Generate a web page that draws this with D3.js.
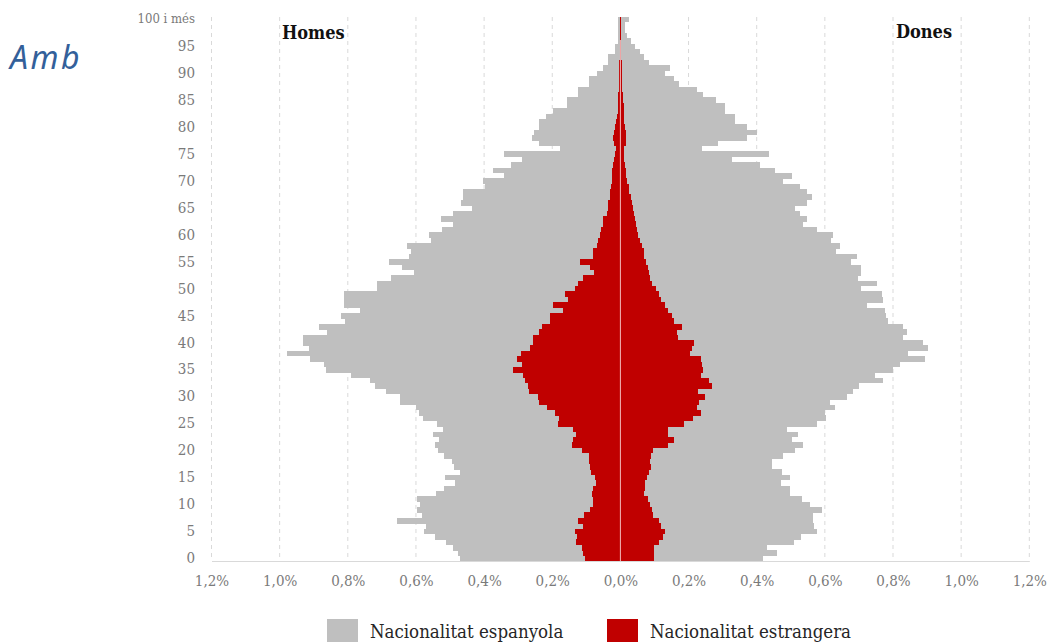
<!DOCTYPE html>
<html>
<head>
<meta charset="utf-8">
<script src="https://cdn.jsdelivr.net/npm/d3@7"></script>
<style>
  body { margin: 0; background: #fff; }
  svg { display: block; }
</style>
</head>
<body>
<div id="pyramid"></div>
<script>
// edats 0..100 (100 = "100 i més")
const ages = d3.range(0, 101);

// % sobre el total de població, per edat (0..100)
const homesEspanyola = [
  0.472, 0.478, 0.49, 0.512, 0.544, 0.576, 0.57, 0.656, 0.583, 0.596,
  0.588, 0.596, 0.541, 0.519, 0.484, 0.514, 0.472, 0.488, 0.495, 0.519,
  0.534, 0.543, 0.532, 0.549, 0.522, 0.539, 0.578, 0.59, 0.6, 0.648,
  0.648, 0.687, 0.72, 0.734, 0.79, 0.864, 0.871, 0.91, 0.979, 0.915,
  0.932, 0.932, 0.86, 0.885, 0.808, 0.82, 0.764, 0.81, 0.81, 0.81,
  0.715, 0.715, 0.673, 0.607, 0.641, 0.679, 0.619, 0.614, 0.627, 0.556,
  0.563, 0.524, 0.49, 0.527, 0.492, 0.435, 0.467, 0.462, 0.461, 0.396,
  0.404, 0.341, 0.374, 0.322, 0.288, 0.342, 0.177, 0.24, 0.26, 0.253,
  0.238, 0.238, 0.219, 0.197, 0.157, 0.157, 0.123, 0.123, 0.091, 0.091,
  0.069, 0.05, 0.037, 0.037, 0.016, 0.016, 0.008, 0.008, 0.008, 0.008,
  0.008
];
const homesEstrangera = [
  0.104, 0.109, 0.113, 0.13, 0.128, 0.133, 0.109, 0.123, 0.107, 0.089,
  0.079, 0.079, 0.083, 0.081, 0.071, 0.076, 0.087, 0.089, 0.091, 0.091,
  0.113, 0.143, 0.138, 0.131, 0.14, 0.184, 0.179, 0.192, 0.216, 0.238,
  0.241, 0.267, 0.27, 0.28, 0.285, 0.316, 0.289, 0.304, 0.292, 0.265,
  0.257, 0.257, 0.238, 0.231, 0.208, 0.208, 0.169, 0.198, 0.155, 0.162,
  0.133, 0.123, 0.109, 0.078, 0.089, 0.118, 0.08, 0.08, 0.069, 0.067,
  0.06, 0.057, 0.05, 0.05, 0.04, 0.035, 0.035, 0.03, 0.03, 0.028,
  0.025, 0.025, 0.025, 0.022, 0.018, 0.015, 0.012, 0.02, 0.022, 0.018,
  0.015, 0.012, 0.01, 0.008, 0.008, 0.006, 0.006, 0.005, 0.005, 0.004,
  0.004, 0.003, 0.003, 0.002, 0.002, 0.002, 0.001, 0.001, 0.001, 0.001,
  0.001
];
const donesEspanyola = [
  0.418, 0.46, 0.43, 0.508, 0.529, 0.578, 0.568, 0.566, 0.566, 0.591,
  0.555, 0.532, 0.498, 0.498, 0.471, 0.498, 0.474, 0.444, 0.444, 0.478,
  0.513, 0.537, 0.503, 0.522, 0.488, 0.578, 0.604, 0.601, 0.63, 0.615,
  0.664, 0.682, 0.701, 0.77, 0.747, 0.799, 0.821, 0.894, 0.845, 0.904,
  0.887, 0.83, 0.84, 0.829, 0.784, 0.78, 0.777, 0.723, 0.772, 0.767,
  0.705, 0.752, 0.698, 0.705, 0.705, 0.676, 0.694, 0.633, 0.643, 0.617,
  0.623, 0.576, 0.537, 0.549, 0.527, 0.513, 0.547, 0.561, 0.547, 0.527,
  0.476, 0.503, 0.454, 0.41, 0.327, 0.437, 0.239, 0.285, 0.371, 0.4,
  0.371, 0.337, 0.337, 0.307, 0.307, 0.281, 0.242, 0.224, 0.172, 0.156,
  0.131, 0.146, 0.085, 0.068, 0.058, 0.043, 0.03, 0.019, 0.014, 0.014,
  0.026
];
const donesEstrangera = [
  0.099, 0.1, 0.099, 0.112, 0.126, 0.131, 0.118, 0.112, 0.097, 0.092,
  0.087, 0.082, 0.07, 0.072, 0.072, 0.079, 0.085, 0.089, 0.087, 0.089,
  0.097, 0.141, 0.156, 0.141, 0.141, 0.187, 0.214, 0.236, 0.226, 0.232,
  0.249, 0.229, 0.268, 0.261, 0.236, 0.242, 0.239, 0.236, 0.205, 0.209,
  0.216, 0.17, 0.165, 0.18, 0.158, 0.151, 0.141, 0.131, 0.118, 0.112,
  0.105, 0.092, 0.088, 0.083, 0.08, 0.074, 0.07, 0.068, 0.063, 0.058,
  0.053, 0.05, 0.046, 0.044, 0.04, 0.038, 0.033, 0.03, 0.026, 0.024,
  0.018, 0.016, 0.016, 0.014, 0.012, 0.012, 0.012, 0.015, 0.016, 0.015,
  0.014, 0.012, 0.012, 0.01, 0.01, 0.008, 0.007, 0.006, 0.006, 0.005,
  0.005, 0.004, 0.004, 0.003, 0.003, 0.002, 0.002, 0.001, 0.001, 0.001,
  0.001
];

const xTicks = [-1.2, -1.0, -0.8, -0.6, -0.4, -0.2, 0, 0.2, 0.4, 0.6, 0.8, 1.0, 1.2];
const xTickLabels = ['1,2%', '1,0%', '0,8%', '0,6%', '0,4%', '0,2%', '0,0%', '0,2%', '0,4%', '0,6%', '0,8%', '1,0%', '1,2%'];
const yTicks = [0, 5, 10, 15, 20, 25, 30, 35, 40, 45, 50, 55, 60, 65, 70, 75, 80, 85, 90, 95, 100];
const legendLabels = ['Nacionalitat espanyola', 'Nacionalitat estrangera'];

function drawPyramid() {
  const w = 1048;
  const h = 642;
  const grey = '#bfbfbf';
  const red = '#c00000';
  const serif = '"DejaVu Serif Condensed", "DejaVu Serif", serif';

  const svg = d3.select('#pyramid').append('svg').attr('width', w).attr('height', h);

  const x = d3.scaleLinear().domain([-1.2, 1.2]).range([211.5, 1029.3]);
  // top row = 100 i més
  const y = d3.scaleBand().domain(ages.slice().reverse()).range([16.6, 561]).padding(0);

  // dashed grid
  svg
    .selectAll('line.grid')
    .data(xTicks.filter((d) => d !== 0))
    .enter()
    .append('line')
    .attr('class', 'grid')
    .attr('x1', (d) => x(d))
    .attr('x2', (d) => x(d))
    .attr('y1', 17)
    .attr('y2', 561)
    .attr('stroke', '#d9d9d9')
    .attr('stroke-width', 1)
    .attr('stroke-dasharray', '4,4');

  // bars: men to the left, women to the right
  const sides = [
    { vals: homesEspanyola, sign: -1, color: grey },
    { vals: donesEspanyola, sign: 1, color: grey },
    { vals: homesEstrangera, sign: -1, color: red },
    { vals: donesEstrangera, sign: 1, color: red },
  ];

  sides.forEach((s) => {
    svg
      .append('g')
      .selectAll('rect')
      .data(ages)
      .enter()
      .append('rect')
      .attr('x', (a) => (s.sign < 0 ? x(-s.vals[a]) : x(0)))
      .attr('width', (a) => Math.abs(x(s.vals[a]) - x(0)))
      .attr('y', (a) => y(a))
      .attr('height', y.bandwidth() + 0.3)
      .attr('fill', s.color)
      .attr('shape-rendering', 'crispEdges');
  });

  // zero line
  svg
    .append('line')
    .attr('x1', x(0))
    .attr('x2', x(0))
    .attr('y1', 40)
    .attr('y2', 561)
    .attr('stroke', '#f1b9b9')
    .attr('stroke-width', 1);

  // x axis
  const xAxis = d3
    .axisBottom(x)
    .tickValues(xTicks)
    .tickFormat((d, i) => xTickLabels[i])
    .tickSize(0)
    .tickPadding(14);

  const gx = svg.append('g').attr('transform', 'translate(0,561)').call(xAxis);
  gx.select('.domain').attr('stroke', '#d9d9d9');
  gx.selectAll('text').attr('font-family', serif).attr('font-size', 15).attr('fill', '#7a7a7a');

  // y axis
  const yAxis = d3
    .axisLeft(y)
    .tickValues(yTicks)
    .tickFormat((d) => (d === 100 ? '100 i més' : d))
    .tickSize(0)
    .tickPadding(3);

  const gy = svg.append('g').attr('transform', 'translate(198,0)').call(yAxis);
  gy.select('.domain').remove();
  gy.selectAll('text')
    .attr('font-family', serif)
    .attr('font-size', (d) => (d === 100 ? 13 : 15))
    .attr('fill', '#7a7a7a');

  // side titles
  svg
    .append('text')
    .attr('x', 282)
    .attr('y', 39)
    .attr('font-family', serif)
    .attr('font-weight', 'bold')
    .attr('font-size', 18)
    .attr('fill', '#111')
    .text('Homes');
  svg
    .append('text')
    .attr('x', 896)
    .attr('y', 38)
    .attr('font-family', serif)
    .attr('font-weight', 'bold')
    .attr('font-size', 18)
    .attr('fill', '#111')
    .text('Dones');

  // cut-off heading on the left
  svg
    .append('text')
    .attr('x', 10)
    .attr('y', 69)
    .attr('font-family', '"Noto Sans", "Open Sans", sans-serif')
    .attr('font-style', 'italic')
    .attr('font-size', 32)
    .attr('letter-spacing', 2.5)
    .attr('fill', '#33609a')
    .text('Amb');

  // legend
  const legend = svg
    .selectAll('g.legend')
    .data(legendLabels)
    .enter()
    .append('g')
    .attr('class', 'legend')
    .attr('transform', (d, i) => `translate(${327 + i * 280},619)`);

  legend
    .append('rect')
    .attr('width', 31)
    .attr('height', 28)
    .attr('fill', (d, i) => (i === 0 ? grey : red));

  legend
    .append('text')
    .attr('x', 43)
    .attr('y', 19)
    .attr('font-family', serif)
    .attr('font-size', 18.5)
    .attr('fill', '#262626')
    .text((d) => d);
}

window.onload = function () {
  drawPyramid();
};
</script>
</body>
</html>
